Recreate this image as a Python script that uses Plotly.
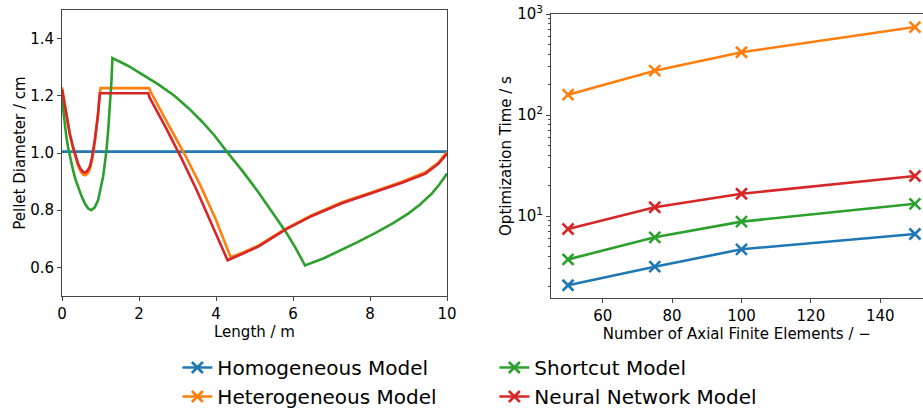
import plotly.graph_objects as go

# ---------------- data: left panel (pellet diameter profile) ----------------
len_hom = [0, 10]
d_hom = [1.005, 1.005]

len_het = [0, 0.114, 0.2, 0.286, 0.35, 0.416, 0.48, 0.546, 0.6, 0.66, 0.72, 0.78, 0.85, 0.90, 0.94, 0.975, 1.0,
           2.26, 2.30, 2.7, 3.17, 3.6, 4.0, 4.38, 4.7, 5.10, 5.79, 6.49, 7.27, 8.05, 8.83, 9.44, 9.78, 10]
d_het = [1.23, 1.128, 1.068, 1.018, 0.985, 0.957, 0.937, 0.925, 0.922, 0.927, 0.942, 0.975, 1.035, 1.09, 1.14, 1.195, 1.227,
         1.227, 1.215, 1.115, 1.0, 0.885, 0.766, 0.636, 0.652, 0.676, 0.734, 0.783, 0.828, 0.863, 0.900, 0.933, 0.967, 1.003]

len_short = [0, 0.035, 0.07, 0.11, 0.156, 0.22, 0.286, 0.35, 0.416, 0.5, 0.59, 0.68, 0.764, 0.85, 0.937, 1.0,
             1.067, 1.11, 1.155, 1.2, 1.24, 1.265, 1.285, 1.31,
             1.7, 2.06, 2.5, 2.92, 3.3, 3.62, 3.95, 4.28, 4.7, 5.1, 5.45, 5.81, 6.05, 6.31,
             6.8, 7.27, 7.7, 8.13, 8.6, 9.0, 9.3, 9.61, 9.8, 10]
d_short = [1.189, 1.145, 1.102, 1.06, 1.021, 0.978, 0.940, 0.908, 0.882, 0.852, 0.824, 0.806, 0.80, 0.81, 0.835, 0.87,
           0.917, 0.96, 1.009, 1.08, 1.149, 1.21, 1.253, 1.332,
           1.306, 1.277, 1.24, 1.2, 1.155, 1.112, 1.063, 1.005, 0.935, 0.863, 0.796, 0.725, 0.672, 0.607,
           0.632, 0.662, 0.69, 0.720, 0.755, 0.789, 0.82, 0.859, 0.89, 0.928]

len_nn = [0, 0.114, 0.2, 0.286, 0.35, 0.416, 0.48, 0.546, 0.6, 0.66, 0.72, 0.78, 0.85, 0.90, 0.937, 0.97, 0.985,
          2.24, 2.27, 2.7, 3.1, 3.5, 3.9, 4.30, 4.7, 5.10, 5.79, 6.49, 7.27, 8.05, 8.83, 9.44, 9.78, 10]
d_nn = [1.222, 1.125, 1.068, 1.021, 0.99, 0.963, 0.945, 0.934, 0.932, 0.938, 0.951, 0.985, 1.044, 1.095, 1.137, 1.19, 1.209,
        1.209, 1.195, 1.088, 0.982, 0.87, 0.75, 0.625, 0.648, 0.673, 0.731, 0.780, 0.824, 0.859, 0.896, 0.928, 0.963, 0.998]

# ---------------- data: right panel (optimization time) ----------------
n_elements = [50, 75, 100, 150]
t_hom = [2.06, 3.15, 4.68, 6.63]
t_het = [159, 275, 418, 743]
t_short = [3.72, 6.15, 8.79, 13.2]
t_nn = [7.43, 12.2, 16.6, 24.9]

names = ["Homogeneous Model", "Heterogeneous Model", "Shortcut Model", "Neural Network Model"]
colors = ["#1f77b4", "#ff7f0e", "#2ca02c", "#d62728"]
legend_rank = [1, 3, 2, 4]

y_major = [10, 100, 1000]
y_major_text = ["10<sup>1</sup>", "10<sup>2</sup>", "10<sup>3</sup>"]
y_minor = [2, 3, 4, 5, 6, 7, 8, 9, 20, 30, 40, 50, 60, 70, 80, 90, 200, 300, 400, 500, 600, 700, 800, 900]

FONT = "DejaVu Sans"
fig = go.Figure()

left = [(len_hom, d_hom), (len_het, d_het), (len_short, d_short), (len_nn, d_nn)]
for (x, y), nm, c in zip(left, names, colors):
    fig.add_trace(go.Scatter(x=x, y=y, mode="lines", name=nm, showlegend=False,
                             line=dict(color=c, width=2.6), xaxis="x", yaxis="y"))

right = [t_hom, t_het, t_short, t_nn]
for y, nm, c, r in zip(right, names, colors, legend_rank):
    fig.add_trace(go.Scatter(x=n_elements, y=y, mode="lines+markers", name=nm, legendrank=r,
                             line=dict(color=c, width=2.6),
                             marker=dict(symbol="x-thin", size=11, line=dict(color=c, width=2.6)),
                             xaxis="x2", yaxis="y2"))

axis_common = dict(showline=True, linecolor="#444", linewidth=1, mirror=True, automargin=False,
                   ticks="outside", ticklen=4, tickcolor="#444", showgrid=False, zeroline=False,
                   tickfont=dict(family=FONT, size=15, color="black"))

fig.update_layout(
    width=923, height=416,
    margin=dict(l=62, r=0, t=10, b=118),
    plot_bgcolor="white", paper_bgcolor="white",
    font=dict(family=FONT, size=15, color="black"),
    xaxis=dict(domain=[0, 0.4472], range=[0, 10], tickvals=[0, 2, 4, 6, 8, 10],
               title=dict(text="Length / m", font=dict(size=15), standoff=4), anchor="y", **axis_common),
    yaxis=dict(domain=[0.0069, 1], range=[0.5, 1.5], tickvals=[0.6, 0.8, 1.0, 1.2, 1.4], tickformat=".1f",
               title=dict(text="Pellet Diameter / cm", font=dict(size=15), standoff=0), anchor="x", **axis_common),
    xaxis2=dict(domain=[0.568, 0.9995], range=[45.1, 152.2], tickvals=[60, 80, 100, 120, 140],
                title=dict(text="Number of Axial Finite Elements / \u2212", font=dict(size=15), standoff=4),
                anchor="y2", **axis_common),
    yaxis2=dict(domain=[0, 0.986], type="log", range=[0.188, 3], tickvals=y_major, ticktext=y_major_text,
                minor=dict(ticks="outside", ticklen=2, tickcolor="#444", tickvals=y_minor, showgrid=False),
                title=dict(text="Optimization Time / s", font=dict(size=15), standoff=2),
                anchor="x2", **axis_common),
    legend=dict(orientation="h", x=0.134, xanchor="left", yref="container", y=-0.02, yanchor="bottom",
                entrywidth=272, entrywidthmode="pixels", tracegroupgap=0,
                font=dict(family=FONT, size=20, color="black"), bgcolor="rgba(0,0,0,0)"),
)

fig.write_html("out.html", config={"displayModeBar": False},
               post_script="document.body.style.margin='0';document.body.style.overflow='hidden';")
